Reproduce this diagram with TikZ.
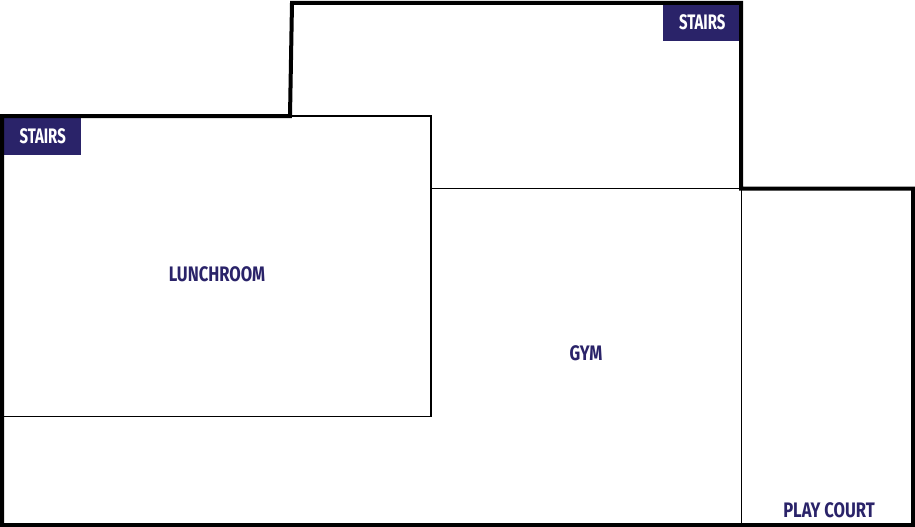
\documentclass[tikz,border=0pt]{standalone}
\usepackage{fontspec}
\setmainfont{Fira Sans}[FakeStretch=0.79]
\newfontfamily\stairsfont{Fira Sans}[FakeStretch=0.71]
\definecolor{planblue}{RGB}{42,35,105}
\tikzset{
  outerwall/.style={line width=4pt, line join=miter},
  innerwall/.style={line width=1.8pt},
  roomlabel/.style={text=planblue, font=\fontsize{21}{24}\selectfont\bfseries, inner sep=0pt},
  stairsbox/.style={fill=planblue, draw=none, text=white, font=\stairsfont\fontsize{21}{24}\selectfont\bfseries, inner sep=0pt, minimum width=77pt, minimum height=37pt, anchor=north west}
}
\begin{document}
\begin{tikzpicture}[x=1pt,y=-1pt]
        \useasboundingbox (0,0) rectangle (915,527);
        \fill[white] (0,0) rectangle (915,527);
        % inner walls
        \draw[innerwall] (3,116) -- (431,116) -- (431,416.5) -- (3,416.5);
        \draw[innerwall] (431,188.5) -- (741.5,188.5);
        \draw[innerwall] (741.5,188.5) -- (741.5,525);
        % stairs
        \node[stairsbox] (stairsleft) at (4,118) {\raisebox{1pt}{STAIRS}\hspace{2pt}};
        \node[stairsbox] (stairsright) at (663,4) {\raisebox{1pt}{\hspace{1pt}STAIRS}};
        % outer walls
        \draw[outerwall] (2,116) -- (290,116) -- (292,3) -- (741,3) -- (741,188.5) -- (913,188.5) -- (913,525) -- (2,525) -- cycle;
        % rooms
        \node[roomlabel] (lunchroom) at (217,274) {LUNCHROOM};
        \node[roomlabel] (gym) at (586,353) {GYM};
        \node[roomlabel] (playcourt) at (829,510) {PLAY COURT};
    \end{tikzpicture}
\end{document}
